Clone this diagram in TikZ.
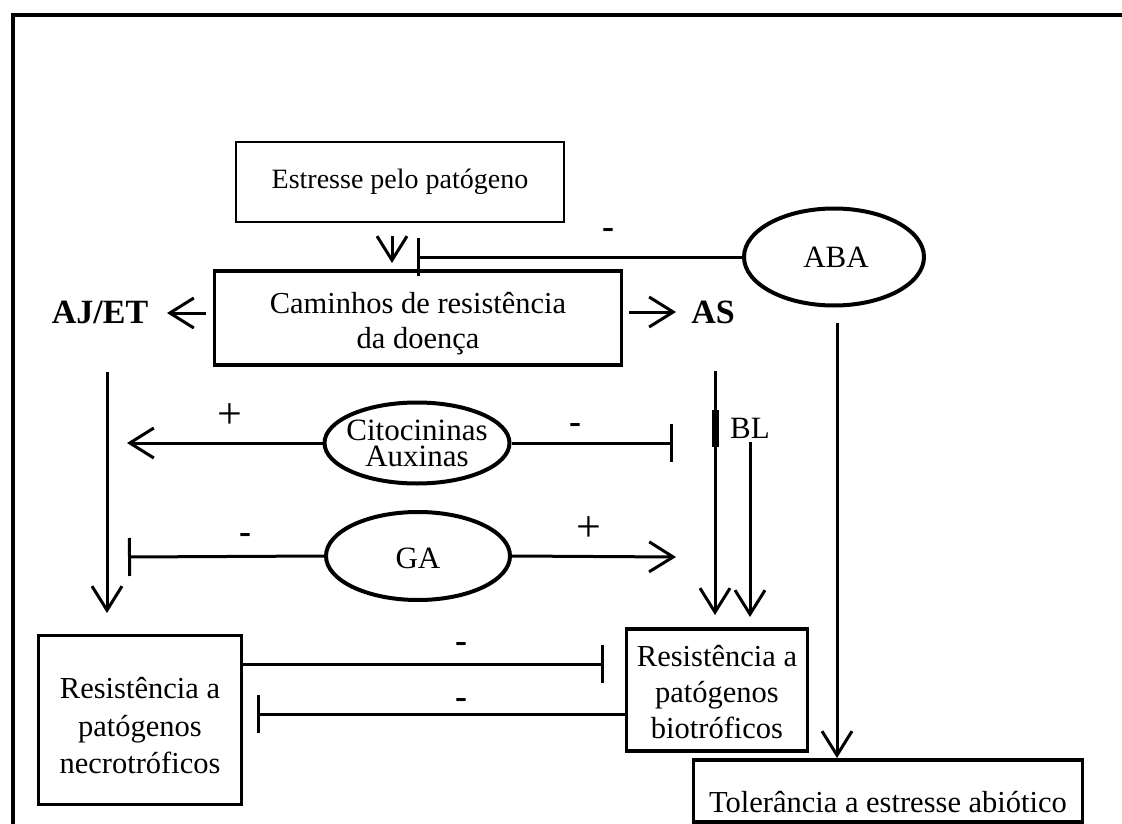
\documentclass[tikz,border=0pt]{standalone}
\usepackage{fontspec}
\setmainfont{Liberation Serif}
\usetikzlibrary{arrows.meta,shapes.geometric}
\begin{document}
\begin{tikzpicture}[x=1pt,y=-1pt,
 txt/.style={font=\fontsize{30.5}{36}\selectfont, align=center, inner sep=0pt},
 boxthick/.style={draw, line width=3.5pt, inner sep=0pt},
 boxthin/.style={draw, line width=2pt, inner sep=0pt},
 ell/.style={draw, ellipse, line width=4pt, inner sep=0pt},
 arr/.style={line width=3pt, -{Straight Barb[length=24pt,width=30pt,line width=3pt]}},
 inh/.style={line width=3pt, -{Bar[width=38pt,line width=3pt]}},
 lab/.style={font=\fontsize{31}{34}\selectfont, inner sep=0pt},
 blab/.style={font=\bfseries\fontsize{34}{38}\selectfont, inner sep=0pt},
 minus/.style={font=\bfseries\fontsize{36}{38}\selectfont, anchor=base, inner sep=0pt},
 plus/.style={font=\fontsize{44}{46}\selectfont, anchor=base, inner sep=0pt}
]
\useasboundingbox (0,0) rectangle (1122,824);
\draw[line width=3.5pt] (13,830) -- (13,15) -- (1130,15);

% boxes and ellipses
\node[boxthin, minimum width=328pt, minimum height=79pt] (stress) at (400,182) {};
\node[txt, font=\fontsize{28}{34}\selectfont] (stresst) at (400,182) {Estresse pelo patógeno};
\node[boxthick, minimum width=407pt, minimum height=94pt] (cam) at (418,318) {};
\node[txt, font=\fontsize{30.5}{35}\selectfont] (camt) at (418,324) {Caminhos de resistência\\da doença};
\node[blab] (ajet) at (100,312) {AJ/ET};
\node[blab] (as) at (713,312) {AS};
\node[ell, minimum width=180pt, minimum height=97pt] (aba) at (834,257) {};
\node[lab] (abat) at (836,257) {ABA};
\node[ell, minimum width=185pt, minimum height=81pt] (cito) at (417,443) {};
\node[txt, font=\fontsize{31}{26}\selectfont] (citot) at (cito) {Citocininas\\Auxinas};
\node[ell, minimum width=184pt, minimum height=88pt] (ga) at (418,556) {};
\node[lab] (gat) at (418,558) {GA};
\node[boxthick, minimum width=181pt, minimum height=122pt] (bio) at (717,690) {};
\node[txt] (biot) at (717,692) {Resistência a\\patógenos\\biotróficos};
\node[boxthick, minimum width=203pt, minimum height=169pt] (necro) at (140,720) {};
\node[txt, font=\fontsize{30.5}{37.5}\selectfont] (necrot) at (140,726) {Resistência a\\patógenos\\necrotróficos};
\node[boxthick, minimum width=389pt, minimum height=62pt] (tol) at (888,791) {};
\node[txt] (tolt) at (888,802) {Tolerância a estresse abiótico};
\node[lab] (bl) at (750,428) {BL};

% coordinates
\coordinate (s1) at (392,236);
\coordinate (s2) at (392,263);
\coordinate (abab) at (417,257);
\coordinate (ajtip) at (167,313);
\coordinate (astip) at (676,312);
\coordinate (ajd1) at (107,372);
\coordinate (ajd2) at (107,613);
\coordinate (citol) at (127,443);
\coordinate (citor) at (673,443);
\coordinate (gal) at (128,557);
\coordinate (gar) at (676,557);
\coordinate (as1) at (715,371);
\coordinate (as2) at (715,615);
\coordinate (asb1) at (715,410);
\coordinate (asb2) at (715,447);
\coordinate (bl1) at (750,442);
\coordinate (bl2) at (750,617);
\coordinate (aba1) at (837,323);
\coordinate (aba2) at (837,758);
\coordinate (nb) at (604,664);
\coordinate (bn) at (257,714);

% connectors
\draw[arr] (s1) -- (s2);
\draw[inh] (aba.west) -- (abab);
\node[minus] (m1) at (608,238) {-};
\draw[arr] ([xshift=-7pt,yshift=5pt]cam.west) -- (ajtip);
\draw[arr] ([xshift=6pt,yshift=6pt]cam.east) -- (astip);
\draw[arr] (ajd1) -- (ajd2);
\draw[arr] (cito.west) -- (citol);
\node[plus] (p1) at (230,428) {+};
\draw[inh] (cito.east) -- (citor);
\node[minus] (m2) at (575,433) {-};
\draw[inh] (ga.west) -- (gal);
\node[minus] (m3) at (245,543) {-};
\draw[arr] (ga.east) -- (gar);
\node[plus] (p2) at (589,541) {+};
\draw[arr] (as1) -- (as2);
\draw[line width=7pt] (asb1) -- (asb2);
\draw[arr] (bl1) -- (bl2);
\draw[arr] (aba1) -- (aba2);
\draw[inh] (necro.east |- nb) -- (nb);
\node[minus] (m4) at (461,652) {-};
\draw[inh] (bio.west |- bn) -- (bn);
\node[minus] (m5) at (461,708) {-};
\end{tikzpicture}
\end{document}
